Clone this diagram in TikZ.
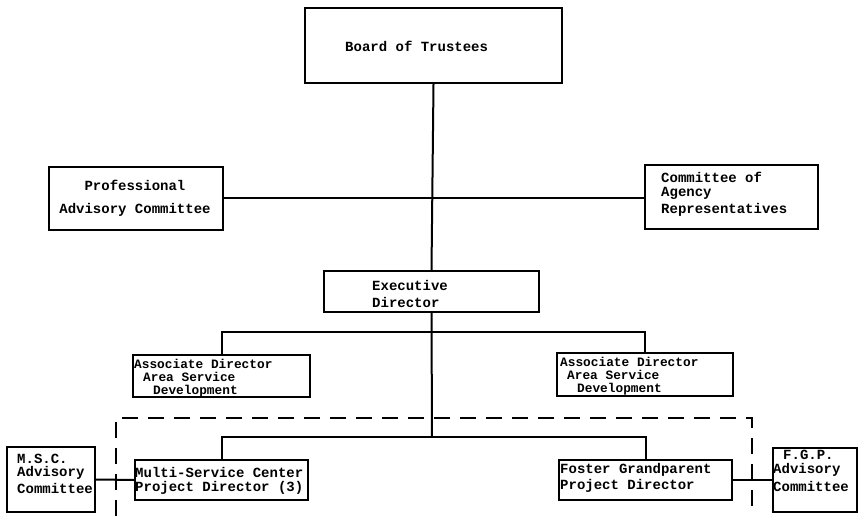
\documentclass[tikz,border=0pt]{standalone}
\usepackage{fontspec}
\setmonofont{Liberation Mono}
\begin{document}
\begin{tikzpicture}[x=1pt,y=-1pt,
  box/.style={draw,line width=2.3pt,inner sep=0pt},
  conn/.style={line width=2pt},
  dashbox/.style={line width=2.3pt,dash pattern=on 16pt off 10pt},
  lbl/.style={anchor=west,inner sep=0pt,font=\ttfamily\bfseries\fontsize{14}{14}\selectfont},
  slbl/.style={lbl,font=\ttfamily\bfseries\fontsize{12.8}{13}\selectfont,text height=7pt,text depth=1.5pt}]
\useasboundingbox (0,0) rectangle (860,516);
% boxes
\node[box,minimum width=257pt,minimum height=75pt] (bot) at (433.5,45.5) {};
\node[box,minimum width=174pt,minimum height=63pt] (pac) at (136,198.5) {};
\node[box,minimum width=173pt,minimum height=64pt] (car) at (731.5,197) {};
\node[box,minimum width=215pt,minimum height=41pt] (ed) at (431.5,291.5) {};
\node[box,minimum width=177pt,minimum height=42pt] (ada) at (221.5,376) {};
\node[box,minimum width=176pt,minimum height=43pt] (adb) at (645,374.5) {};
\node[box,minimum width=173pt,minimum height=40pt] (msc) at (221.5,480) {};
\node[box,minimum width=173pt,minimum height=40pt] (fg) at (645.5,480) {};
\node[box,minimum width=88pt,minimum height=65pt] (mscadv) at (51,479.5) {};
\node[box,minimum width=84pt,minimum height=64pt] (fgadv) at (815,480) {};
% texts
\node[lbl] (t1) at (345,46) {Board of Trustees};
\node[lbl,anchor=center] (t2) at (135,185) {Professional};
\node[lbl,anchor=center] (t3) at (135,210) {Advisory Committee};
\node[lbl] (t4) at (661,177) {Committee of};
\node[lbl] (t5) at (661,193) {Agency};
\node[lbl] (t6) at (661,210) {Representatives};
\node[lbl] (t7) at (372,285) {Executive};
\node[lbl] (t8) at (372,302) {Director};
\node[slbl] (t9) at (134,366) {Associate Director};
\node[slbl] (t10) at (143,379) {Area Service};
\node[slbl] (t11) at (153,391.5) {Development};
\node[slbl] (t12) at (560,364) {Associate Director};
\node[slbl] (t13) at (567,377) {Area Service};
\node[slbl] (t14) at (577,389.5) {Development};
\node[lbl] (t15) at (135,472) {Multi-Service Center};
\node[lbl] (t16) at (135,488) {Project Director (3)};
\node[lbl] (t17) at (560,470) {Foster Grandparent};
\node[lbl] (t18) at (560,486) {Project Director};
\node[lbl] (t19) at (17,459) {M.S.C.};
\node[lbl] (t20) at (17,473) {Advisory};
\node[lbl] (t21) at (17,488) {Committee};
\node[lbl] (t22) at (783,455) {F.G.P.};
\node[lbl] (t23) at (773,470) {Advisory};
\node[lbl] (t24) at (773,486) {Committee};
% connectors
\coordinate (j1) at (432,332);
\coordinate (j2) at (432,437);
\draw[conn] (bot.south) -- (ed.north);
\draw[conn] (pac.east) -- (pac.east -| car.west);
\draw[conn] (ed.south) -- (j2);
\draw[conn] (ada.north) |- (j1) -| (adb.north);
\draw[conn] (msc.north) |- (j2) -| (fg.north);
\draw[conn] (mscadv.east) -- (msc.west);
\draw[conn] (fg.east) -- (fgadv.west);
% dashed region
\coordinate (d1) at (116,516);
\coordinate (d2) at (116,418);
\coordinate (d3) at (752,418);
\coordinate (d4) at (752,516);
\draw[dashbox] (d1) -- (d2) -- (d3) -- (d4);
\end{tikzpicture}
\end{document}
